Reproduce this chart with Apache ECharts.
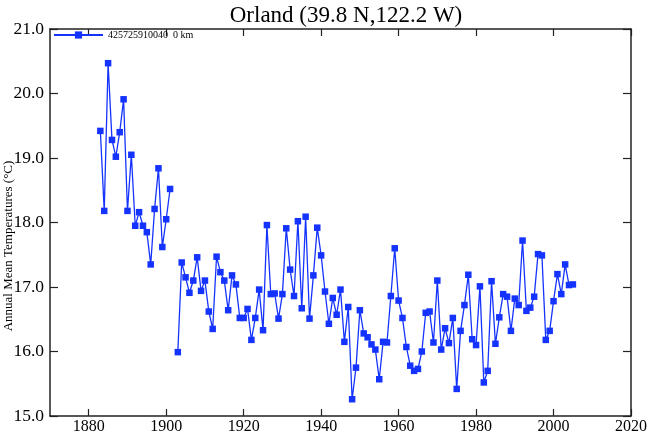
<!DOCTYPE html>
<html>
<head>
<meta charset="utf-8">
<script src="https://cdn.jsdelivr.net/npm/echarts@6/dist/echarts.min.js"></script>
<style>
html,body{margin:0;padding:0;background:#fff;}
#chart{width:650px;height:435px;}
</style>
</head>
<body>
<div id="chart"></div>
<script>
var titleText = 'Orland (39.8 N,122.2 W)';
var seriesName = '425725910040  0 km';
var yAxisName = 'Annual Mean Temperatures (\u00B0C)';

var years = [1883,1884,1885,1886,1887,1888,1889,1890,1891,1892,1893,1894,1895,1896,1897,1898,1899,1900,
1901,1902,1903,1904,1905,1906,1907,1908,1909,1910,1911,1912,1913,1914,1915,1916,1917,1918,1919,1920,
1921,1922,1923,1924,1925,1926,1927,1928,1929,1930,1931,1932,1933,1934,1935,1936,1937,1938,1939,1940,
1941,1942,1943,1944,1945,1946,1947,1948,1949,1950,1951,1952,1953,1954,1955,1956,1957,1958,1959,1960,
1961,1962,1963,1964,1965,1966,1967,1968,1969,1970,1971,1972,1973,1974,1975,1976,1977,1978,1979,1980,
1981,1982,1983,1984,1985,1986,1987,1988,1989,1990,1991,1992,1993,1994,1995,1996,1997,1998,1999,2000,
2001,2002,2003,2004,2005];

var temps = [19.42,18.18,20.47,19.28,19.02,19.40,19.91,18.18,19.05,17.95,18.16,17.95,17.85,17.35,18.21,18.84,17.62,18.05,
18.52,null,15.99,17.38,17.15,16.91,17.10,17.46,16.94,17.10,16.62,16.35,17.47,17.23,17.10,16.64,17.18,17.04,16.52,16.52,
16.66,16.18,16.52,16.96,16.33,17.96,16.89,16.90,16.51,16.89,17.91,17.27,16.86,18.02,16.67,18.09,16.51,17.18,17.92,17.49,
16.93,16.43,16.83,16.57,16.96,16.15,16.69,15.26,15.75,16.64,16.28,16.22,16.11,16.03,15.57,16.15,16.14,16.86,17.60,16.79,
16.52,16.07,15.78,15.70,15.73,16.00,16.60,16.62,16.14,17.10,16.03,16.36,16.13,16.52,15.42,16.32,16.72,17.19,16.19,16.10,
17.01,15.52,15.70,17.09,16.12,16.53,16.89,16.85,16.32,16.82,16.72,17.72,16.63,16.68,16.85,17.51,17.49,16.18,16.32,16.78,
17.20,16.89,17.35,17.03,17.04];

var xTicks = [1880,1900,1920,1940,1960,1980,2000,2020];
var xMin = 1870, xMax = 2020;
var yTicks = [15,16,17,18,19,20,21];
var yMin = 15, yMax = 21, yStep = 1;

var seriesData = years.map(function (y, i) { return [y, temps[i]]; });

var serif = 'Liberation Serif';
var axisColor = '#222';
var lineBlue = '#1533ff';

var chart = echarts.init(document.getElementById('chart'), null, {renderer: 'canvas'});
chart.setOption({
  animation: false,
  backgroundColor: '#fff',
  title: {
    text: titleText,
    left: 341, top: -1, textAlign: 'center',
    textStyle: {fontFamily: serif, fontSize: 23, fontWeight: 'normal', color: '#000'}
  },
  legend: {
    left: 53, top: 30, padding: 0,
    itemWidth: 49, itemHeight: 9, itemGap: 6,
    textStyle: {fontFamily: serif, fontSize: 10, color: '#000'},
    data: [seriesName]
  },
  grid: {left: 50, right: 16, top: 29, bottom: 18, show: false},
  graphic: [{
    type: 'text', x: 9, y: 246, rotation: Math.PI / 2,
    style: {text: yAxisName, fontFamily: serif, fontSize: 13, fill: '#000', textAlign: 'center', textVerticalAlign: 'middle'}
  }],
  xAxis: [{
    type: 'value', min: xMin, max: xMax, position: 'bottom',
    axisLine: {show: true, onZero: false, lineStyle: {color: axisColor, width: 1.5}},
    axisTick: {show: true, inside: true, length: 7, customValues: xTicks, lineStyle: {color: axisColor, width: 1.2}},
    axisLabel: {show: true, customValues: xTicks, margin: 3, fontFamily: serif, fontSize: 16, color: '#000',
      formatter: function (v) { return String(v); }},
    splitLine: {show: false}
  }, {
    type: 'value', min: xMin, max: xMax, position: 'top',
    axisLine: {show: true, onZero: false, lineStyle: {color: axisColor, width: 1.5}},
    axisTick: {show: true, inside: true, length: 7, customValues: xTicks, lineStyle: {color: axisColor, width: 1.2}},
    axisLabel: {show: false},
    splitLine: {show: false}
  }],
  yAxis: [{
    type: 'value', min: yMin, max: yMax, interval: yStep, position: 'left',
    axisLine: {show: true, onZero: false, lineStyle: {color: axisColor, width: 1.5}},
    axisTick: {show: true, inside: true, length: 8, lineStyle: {color: axisColor, width: 1.2}},
    axisLabel: {show: true, margin: 6, fontFamily: serif, fontSize: 17.5, color: '#000',
      formatter: function (v) { return v.toFixed(1); }},
    splitLine: {show: false}
  }, {
    type: 'value', min: yMin, max: yMax, interval: yStep, position: 'right',
    axisLine: {show: true, onZero: false, lineStyle: {color: axisColor, width: 1.5}},
    axisTick: {show: true, inside: true, length: 8, lineStyle: {color: axisColor, width: 1.2}},
    axisLabel: {show: false},
    splitLine: {show: false}
  }],
  series: [{
    name: seriesName,
    type: 'line',
    xAxisIndex: 0, yAxisIndex: 0,
    data: seriesData,
    connectNulls: false,
    showAllSymbol: true,
    symbol: 'rect',
    symbolSize: 6.5,
    itemStyle: {color: lineBlue},
    lineStyle: {color: lineBlue, width: 1.3}
  }]
});
</script>
</body>
</html>
